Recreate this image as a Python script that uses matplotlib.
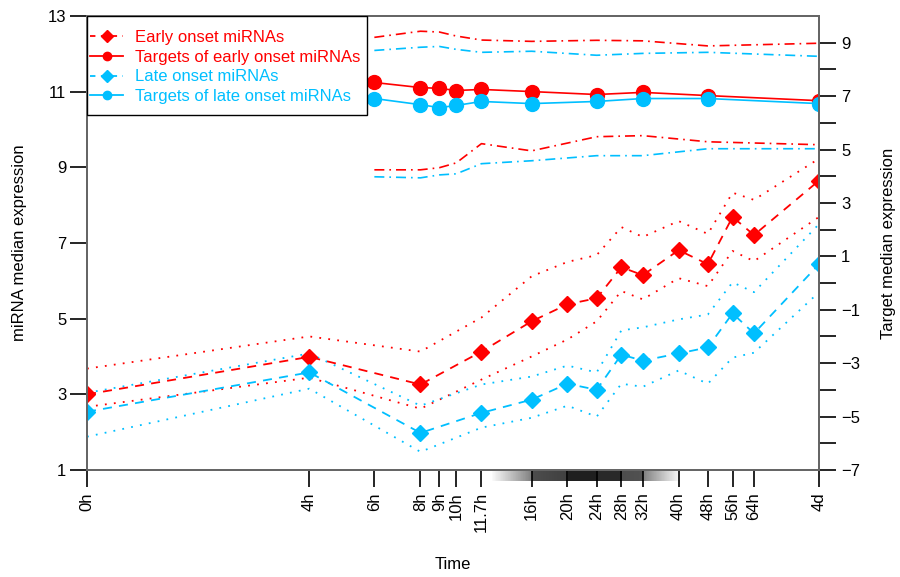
import numpy as np
import matplotlib
matplotlib.use("Agg")
import matplotlib.pyplot as plt
from matplotlib.patches import Rectangle
from matplotlib.lines import Line2D

plt.rcParams['font.family'] = ['Liberation Sans', 'DejaVu Sans']

# ---- data ----
tick_hours = [0, 4, 6, 8, 9, 10, 11.7, 16, 20, 24, 28, 32, 40, 48, 56, 64, 96]
tick_labels = ["0h", "4h", "6h", "8h", "9h", "10h", "11.7h", "16h", "20h", "24h",
               "28h", "32h", "40h", "48h", "56h", "64h", "4d"]

mirna_hours = [0, 4, 8, 11.7, 16, 20, 24, 28, 32, 40, 48, 56, 64, 96]
early_mirna = [3.0, 3.99, 3.26, 4.13, 4.93, 5.38, 5.54, 6.36, 6.15, 6.81, 6.44, 7.69, 7.21, 8.65]
early_mirna_hi = [3.68, 4.53, 4.13, 5.03, 6.12, 6.50, 6.68, 7.42, 7.16, 7.58, 7.24, 8.33, 8.14, 9.23]
early_mirna_lo = [2.67, 3.44, 2.62, 3.39, 4.00, 4.45, 4.93, 5.73, 5.51, 6.07, 5.86, 6.79, 6.52, 7.69]
late_mirna = [2.54, 3.58, 1.98, 2.51, 2.86, 3.28, 3.12, 4.05, 3.89, 4.08, 4.24, 5.14, 4.61, 6.44]
late_mirna_hi = [3.04, 4.08, 2.70, 3.26, 3.47, 3.76, 3.58, 4.69, 4.77, 4.98, 5.11, 5.96, 5.70, 7.50]
late_mirna_lo = [1.88, 3.15, 1.48, 2.12, 2.38, 2.70, 2.41, 3.28, 3.20, 3.63, 3.28, 3.97, 4.10, 5.70]

target_hours = [6, 8, 9, 10, 11.7, 16, 24, 32, 48, 96]
early_target = [7.51, 7.32, 7.29, 7.21, 7.25, 7.17, 7.06, 7.14, 7.02, 6.83]
early_target_hi = [9.20, 9.43, 9.40, 9.25, 9.10, 9.05, 9.09, 9.07, 8.88, 8.98]
early_target_lo = [4.24, 4.24, 4.32, 4.50, 5.22, 4.95, 5.48, 5.52, 5.29, 5.18]
late_target = [6.91, 6.68, 6.57, 6.65, 6.80, 6.72, 6.80, 6.91, 6.91, 6.72]
late_target_hi = [8.71, 8.83, 8.86, 8.75, 8.64, 8.68, 8.53, 8.60, 8.64, 8.49]
late_target_lo = [3.98, 3.94, 4.05, 4.09, 4.47, 4.58, 4.77, 4.77, 5.03, 5.03]

# grey time-gradient bar (hours, grey level)
grad_hours = [12.5, 16, 16.01, 20, 20.01, 24, 24.01, 28, 28.01, 32, 32.01, 40]
grad_grey = [0.98, 0.50, 0.30, 0.25, 0.12, 0.12, 0.16, 0.16, 0.30, 0.32, 0.50, 0.97]

RED = '#FF0000'
CYAN = '#00BFFF'


def pos(h):
    return np.log2(np.maximum(np.asarray(h, dtype=float), 1.0))


fig = plt.figure(figsize=(9, 5.77), dpi=100)
ax = fig.add_axes([87 / 900, 1 - 470 / 577, (819 - 87) / 900, (470 - 16) / 577])
ax2 = ax.twinx()

# miRNA (left axis)
ax.plot(pos(mirna_hours), early_mirna, ls=(0, (5, 4)), color=RED, lw=1.3,
        marker='D', ms=8, mec=RED, mfc=RED, zorder=5)
ax.plot(pos(mirna_hours), early_mirna_hi, ls=(0, (1, 4)), color=RED, lw=1.3)
ax.plot(pos(mirna_hours), early_mirna_lo, ls=(0, (1, 4)), color=RED, lw=1.3)
ax.plot(pos(mirna_hours), late_mirna, ls=(0, (5, 4)), color=CYAN, lw=1.3,
        marker='D', ms=8, mec=CYAN, mfc=CYAN, zorder=5)
ax.plot(pos(mirna_hours), late_mirna_hi, ls=(0, (1, 4)), color=CYAN, lw=1.3)
ax.plot(pos(mirna_hours), late_mirna_lo, ls=(0, (1, 4)), color=CYAN, lw=1.3)

# targets (right axis)
ax2.plot(pos(target_hours), early_target, ls='-', color=RED, lw=1.2,
         marker='o', ms=10, mec=RED, mfc=RED)
ax2.plot(pos(target_hours), early_target_hi, ls=(0, (6, 3, 1, 3)), color=RED, lw=1.2)
ax2.plot(pos(target_hours), early_target_lo, ls=(0, (6, 3, 1, 3)), color=RED, lw=1.2)
ax2.plot(pos(target_hours), late_target, ls='-', color=CYAN, lw=1.2,
         marker='o', ms=10, mec=CYAN, mfc=CYAN)
ax2.plot(pos(target_hours), late_target_hi, ls=(0, (6, 3, 1, 3)), color=CYAN, lw=1.2)
ax2.plot(pos(target_hours), late_target_lo, ls=(0, (6, 3, 1, 3)), color=CYAN, lw=1.2)

# gradient bar under x axis
gx = np.linspace(pos(grad_hours[0]), pos(grad_hours[-1]), 300)
gv = np.interp(gx, pos(grad_hours), grad_grey)
trans = ax.get_xaxis_transform()
for i in range(len(gx) - 1):
    ax.add_patch(Rectangle((gx[i], -0.024), gx[i + 1] - gx[i], 0.024,
                           transform=trans, clip_on=False,
                           facecolor=str(gv[i]), edgecolor='none', zorder=0))

xmax = pos(96)
ax.set_xlim(0, xmax)
ax.set_ylim(1, 13)
ax2.set_ylim(-7, 10)

ax.set_xticks(pos(tick_hours))
ax.set_xticklabels(tick_labels, rotation=90, fontsize=12)
ax.set_yticks([1, 3, 5, 7, 9, 11, 13])
ax.tick_params(axis='y', labelsize=12, length=12, width=1.2, direction='out', pad=3)
ax.tick_params(axis='x', length=12, width=1.2, direction='out', pad=4)
ax2.set_yticks([-7, -5, -3, -1, 1, 3, 5, 7, 9])
ax2.set_yticks(np.arange(-6, 10, 2), minor=True)
ax2.tick_params(axis='y', which='both', labelsize=12, length=12, width=1.2, direction='out', pad=4)

for a in (ax, ax2):
    for s in a.spines.values():
        s.set_color('#666666')
        s.set_linewidth(1.4)

ax.set_ylabel('miRNA median expression', fontsize=12, labelpad=15)
ax2.set_ylabel('Target median expression', fontsize=12, labelpad=15)
ax.set_xlabel('Time', fontsize=12, labelpad=18)

# legend box (frame drawn separately)
ax2.add_patch(Rectangle((0, (470 - 115) / 454), (367 - 87) / 732, (115 - 16) / 454,
                        transform=ax2.transAxes, facecolor='white',
                        edgecolor='black', lw=1.0, zorder=10))
handles = [
    Line2D([], [], color=RED, ls=(0, (3, 3)), lw=1.3, marker='D', ms=6),
    Line2D([], [], color=RED, ls='-', lw=1.3, marker='o', ms=6),
    Line2D([], [], color=CYAN, ls=(0, (3, 3)), lw=1.3, marker='D', ms=6),
    Line2D([], [], color=CYAN, ls='-', lw=1.3, marker='o', ms=6),
]
labels = ['Early onset miRNAs', 'Targets of early onset miRNAs',
          'Late onset miRNAs', 'Targets of late onset miRNAs']
leg = ax2.legend(handles, labels, loc='upper left',
                 bbox_to_anchor=(3 / 732, 1 - 14 / 454),
                 fontsize=12, frameon=False, borderaxespad=0, borderpad=0,
                 handlelength=2.0, handletextpad=0.7, labelspacing=0.28)
leg.set_zorder(11)
for t, c in zip(leg.get_texts(), [RED, RED, CYAN, CYAN]):
    t.set_color(c)

fig.savefig('out.png', dpi=100)
